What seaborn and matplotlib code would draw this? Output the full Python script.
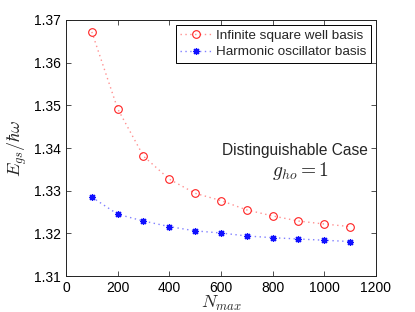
import matplotlib
matplotlib.use("Agg")
import matplotlib.pyplot as plt
import seaborn as sns
import pandas as pd

n_max = [100, 200, 300, 400, 500, 600, 700, 800, 900, 1000, 1100]
isw_energy = [1.3672, 1.3492, 1.3381, 1.3327, 1.3294, 1.3277, 1.3255, 1.3241, 1.3229, 1.3222, 1.3216]
ho_energy = [1.3285, 1.3245, 1.3229, 1.3216, 1.3206, 1.3201, 1.3194, 1.3190, 1.3187, 1.3184, 1.3181]
series_labels = ["Infinite square well basis", "Harmonic oscillator basis"]

sns.set_style("ticks")
plt.rcParams['font.family'] = ['Liberation Sans', 'DejaVu Sans']
plt.rcParams['mathtext.fontset'] = 'cm'

fig = plt.figure(figsize=(4.15, 3.12), dpi=100)
ax = fig.add_axes([0.159, 0.115, 0.747, 0.821])

df1 = pd.DataFrame({"N": n_max, "E": isw_energy})
df2 = pd.DataFrame({"N": n_max, "E": ho_energy})
sns.lineplot(data=df1, x="N", y="E", ax=ax, color="#ff9090", linestyle=(0, (1, 2.5)), linewidth=1.0,
             marker="o", markersize=5.5, markerfacecolor="none", markeredgecolor="#ff2020",
             markeredgewidth=0.8, label=series_labels[0])
sns.lineplot(data=df2, x="N", y="E", ax=ax, color="#8080ff", linestyle=(0, (1, 2.5)), linewidth=1.0,
             marker=(8, 2, 0), markersize=5, markerfacecolor="#1010ff", markeredgecolor="#1010ff",
             markeredgewidth=0.9, label=series_labels[1])

ax.set_xlim(0, 1200)
ax.set_ylim(1.31, 1.37)
ax.set_xticks([0, 200, 400, 600, 800, 1000, 1200])
ax.set_yticks([1.31, 1.32, 1.33, 1.34, 1.35, 1.36, 1.37])
ax.set_yticklabels(["1.31", "1.32", "1.33", "1.34", "1.35", "1.36", "1.37"])
ax.tick_params(direction="in", top=True, right=True, labelsize=10, length=3.5, width=0.6, colors="#333333", labelcolor="black")
for s in ax.spines.values():
    s.set_visible(True)
    s.set_linewidth(0.7)
    s.set_color("#222222")

ax.set_xlabel(r"$N_{max}$", fontsize=13, labelpad=-1)
ax.set_ylabel(r"$E_{gs}/\hbar\omega$", fontsize=13, labelpad=4)

ax.text(0.739, 0.49, "Distinguishable Case", transform=ax.transAxes, ha="center", va="center", fontsize=11.2)
ax.text(0.755, 0.41, r"$g_{ho}=1$", transform=ax.transAxes, ha="center", va="center", fontsize=14)

leg = ax.legend(loc="upper right", fontsize=9.7, frameon=True, fancybox=False, framealpha=1,
                edgecolor="black", borderpad=0.35, handlelength=2.3, labelspacing=0.3,
                borderaxespad=0.35, handletextpad=0.35)
leg.get_frame().set_linewidth(0.7)

fig.savefig("out.png", dpi=100)
